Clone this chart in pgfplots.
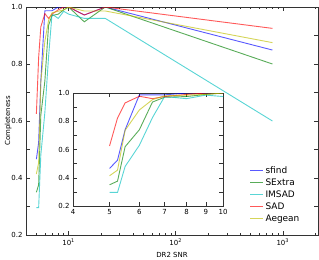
\documentclass[border=0pt]{standalone}
\usepackage{fontspec}
\setmainfont{DejaVu Sans}
\usepackage{pgfplots}
\usepackage{pgfplotstable}
\pgfplotsset{compat=1.18}
\definecolor{mb}{rgb}{0,0,1}
\definecolor{mg}{rgb}{0,0.5,0}
\definecolor{mc}{rgb}{0,0.75,0.75}
\definecolor{mr}{rgb}{1,0,0}
\definecolor{my}{rgb}{0.75,0.75,0}
\pgfplotstableread{
x sfind sextra imsad sad aegean
5 0.466 0.350 0.296 0.625 0.414
5.25 0.524 0.376 0.296 0.823 0.454
5.5 0.740 0.620 0.480 0.930 0.736
6 0.987 0.740 0.630 0.977 0.880
6.5 0.987 0.936 0.826 0.960 0.953
7 0.987 0.970 0.975 0.975 0.980
8 1.000 0.975 0.960 0.990 0.985
9 1.000 0.990 0.985 1.000 0.990
10 1.000 1.000 0.975 1.000 1.000
14 0.972 0.948 0.960 0.972 0.986
22 1.000 1.000 0.960 1.000 0.986
800 0.849 0.800 0.600 0.925 0.875
}\data
\pgfplotsset{
  every axis plot/.append style={line width=0.9bp, opacity=0.65},
  mystyle/.style={
    scale only axis,
    tick label style={font=\fontsize{7}{8}\selectfont},
    major tick length=4bp, minor tick length=2bp,
    axis line style={black!80, line width=0.6bp},
    every tick/.style={black!80, line width=0.5bp},
    ytick={0.2,0.3,0.4,0.5,0.6,0.7,0.8,0.9,1.0},
    yticklabels={0.2,,0.4,,0.6,,0.8,,1.0},
    ymin=0.2, ymax=1.0,
  }
}
\begin{document}
\begin{tikzpicture}
\begin{axis}[mystyle,
  at={(0,0)}, anchor=south west,
  width=292bp, height=228bp,
  xmode=log, xmin=4, xmax=2130,
  xtick={10,100,1000},
  xticklabels={10\textsuperscript{1},10\textsuperscript{2},10\textsuperscript{3}},
  minor xtick={5,6,7,8,9,20,30,40,50,60,70,80,90,200,300,400,500,600,700,800,900,2000},
  xlabel={DR2 SNR}, ylabel={Completeness},
  label style={font=\fontsize{7}{8}\selectfont},
  ylabel style={yshift=-7bp},
  legend cell align=left,
  legend style={draw=none, fill=none, at={(0.755,0.32)}, anchor=north west,
    font=\fontsize{9}{10}\selectfont, row sep=0bp},
  legend image code/.code={\draw[#1, line width=0.9bp, opacity=0.65] (0bp,0bp) -- (13bp,0bp);},
]
\addplot[mb] table[x=x,y=sfind] {\data};
\addplot[mg] table[x=x,y=sextra] {\data};
\addplot[mc] table[x=x,y=imsad] {\data};
\addplot[mr] table[x=x,y=sad] {\data};
\addplot[my] table[x=x,y=aegean] {\data};
\legend{sfind,SExtra,IMSAD,SAD,Aegean}
\end{axis}
\begin{axis}[mystyle,
  at={(47bp,29bp)}, anchor=south west,
  width=150bp, height=113bp,
  xmode=log, xmin=4, xmax=10,
  xtick={4,5,6,7,8,9,10},
  xticklabels={4,5,6,7,8,9,10},
  minor xtick={},
]
\addplot[mb] table[x=x,y=sfind] {\data};
\addplot[mg] table[x=x,y=sextra] {\data};
\addplot[mc] table[x=x,y=imsad] {\data};
\addplot[mr] table[x=x,y=sad] {\data};
\addplot[my] table[x=x,y=aegean] {\data};
\end{axis}
\pgfresetboundingbox
\path (-26bp,-25bp) rectangle (293bp,235bp);
\end{tikzpicture}
\end{document}
